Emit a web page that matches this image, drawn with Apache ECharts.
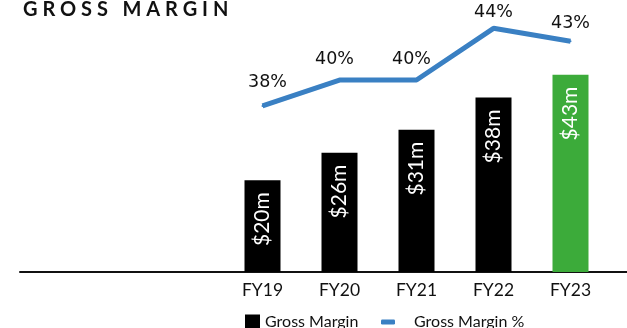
<!DOCTYPE html>
<html>
<head>
    <meta charset="utf-8">
    <script src="https://cdn.jsdelivr.net/npm/echarts@6/dist/echarts.min.js"></script>
    <style type="text/css">
        html, body { margin: 0; padding: 0; background: #fff; }
        #main { width: 627px; height: 328px; }
    </style>
</head>
<body>
    <div id="main"></div>
    <script>
        // data
        const years = ['FY19', 'FY20', 'FY21', 'FY22', 'FY23'];
        const grossMargin = [20, 26, 31, 38, 43];      // $m
        const marginPct = [38, 40, 40, 44, 43];        // %

        // small nudges for the % labels so they sit like the original
        const pctLabelOffset = [[5, -3], [-5, -1], [-5, -1], [0, 4], [0, 2]];

        const chart = echarts.init(document.getElementById('main'));

        const barData = grossMargin.map((v, i) => ({
            value: v,
            itemStyle: { color: i === grossMargin.length - 1 ? '#3cab3a' : '#000' }
        }));
        const lineData = marginPct.map((v, i) => ({
            value: v,
            label: { offset: pctLabelOffset[i] }
        }));

        chart.setOption({
            animation: false,
            title: {
                text: 'G R O S S   M A R G I N',
                left: 18,
                top: -5,
                textStyle: { fontFamily: 'Lato', fontWeight: 'bold', fontSize: 20, color: '#111' }
            },
            legend: [{
                data: [{ name: 'Gross Margin', icon: 'rect' }],
                left: 240, top: 309,
                itemWidth: 15, itemHeight: 15,
                textStyle: { fontFamily: 'Lato', fontSize: 16, color: '#111' }
            }, {
                data: [{ name: 'Gross Margin %', icon: 'roundRect' }],
                left: 376, top: 309,
                itemWidth: 14, itemHeight: 5,
                textStyle: { fontFamily: 'Lato', fontSize: 16, color: '#111', padding: [0, 0, 0, 14] }
            }],
            grid: [
                { left: 224, right: 18, top: 26, bottom: 56 },
                { left: 20, right: 0, top: 26, bottom: 56 }
            ],
            xAxis: [{
                type: 'category',
                gridIndex: 0,
                data: years,
                axisLine: { show: false },
                axisTick: { show: false },
                axisLabel: { margin: 9, fontFamily: 'Lato', fontSize: 17.5, color: '#111' }
            }, {
                type: 'value',
                gridIndex: 1,
                min: 0, max: 1,
                axisLine: { show: true, lineStyle: { color: '#111', width: 2 } },
                axisTick: { show: false },
                axisLabel: { show: false },
                splitLine: { show: false }
            }],
            yAxis: [{
                type: 'value', gridIndex: 0, min: 0, max: 53.6, show: false
            }, {
                type: 'value', gridIndex: 0, min: 25.15, max: 44.18, show: false
            }, {
                type: 'value', gridIndex: 1, min: 0, max: 1, show: false
            }],
            series: [{
                name: 'Gross Margin',
                type: 'bar',
                xAxisIndex: 0, yAxisIndex: 0,
                data: barData,
                barWidth: 36,
                itemStyle: { color: '#000' },
                label: {
                    show: true,
                    position: 'insideTop',
                    distance: 12,
                    rotate: 90,
                    align: 'right',
                    verticalAlign: 'middle',
                    color: '#fff',
                    fontFamily: 'Lato',
                    fontSize: 21,
                    formatter: p => '$' + p.value + 'm'
                }
            }, {
                name: 'Gross Margin %',
                type: 'line',
                xAxisIndex: 0, yAxisIndex: 1,
                data: lineData,
                symbol: 'circle',
                symbolSize: 2,
                z: 5,
                lineStyle: { color: '#3a80c3', width: 5 },
                itemStyle: { color: '#3a80c3' },
                label: {
                    show: true,
                    position: 'top',
                    distance: 10,
                    color: '#111',
                    fontFamily: 'DejaVu Sans',
                    fontSize: 17.5,
                    formatter: p => p.value + '%'
                }
            }]
        });
    </script>
</body>
</html>
